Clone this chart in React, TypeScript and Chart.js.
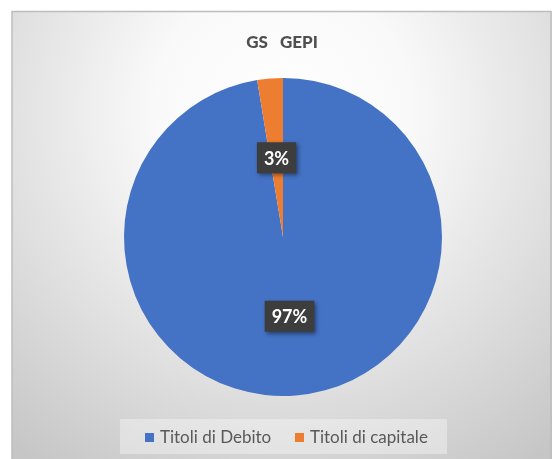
import { useEffect, useRef } from "react";
import { Chart, registerables } from "chart.js";

Chart.register(...registerables);

const chartTitle = "GS   GEPI";
const categories = ["Titoli di Debito", "Titoli di capitale"];
const values = [97.4, 2.6];
const percentLabels = ["97%", "3%"];
const colors = ["#4472C4", "#ED7D31"];

const FONT = "Lato, 'Open Sans', sans-serif";

const framePlugin = {
  id: "frame",
  beforeDraw(chart: any) {
    const ctx = chart.ctx;
    const W = chart.width;
    const H = chart.height;
    ctx.save();
    ctx.fillStyle = "#ffffff";
    ctx.fillRect(0, 0, W, H);
    const g = ctx.createRadialGradient(282, 110, 0, 282, 110, 430);
    g.addColorStop(0, "#ffffff");
    g.addColorStop(0.3, "#f9f9f9");
    g.addColorStop(1, "#c6c6c6");
    ctx.fillStyle = g;
    ctx.fillRect(12, 11, 540, H - 11);
    ctx.strokeStyle = "#bdbdbd";
    ctx.lineWidth = 1.5;
    ctx.beginPath();
    ctx.moveTo(12, H);
    ctx.lineTo(12, 11.5);
    ctx.lineTo(551, 11.5);
    ctx.lineTo(551, H);
    ctx.stroke();
    ctx.restore();
  },
};

const overlayPlugin = {
  id: "overlay",
  afterDraw(chart: any) {
    const ctx = chart.ctx;
    ctx.save();
    // title
    ctx.fillStyle = "#505050";
    ctx.font = `900 17px ${FONT}`;
    ctx.textAlign = "center";
    ctx.textBaseline = "middle";
    ctx.fillText(chartTitle, 282, 43);

    // data labels
    const meta = chart.getDatasetMeta(0);
    meta.data.forEach((arc: any, i: number) => {
      const p = arc.tooltipPosition();
      ctx.font = `bold 18px ${FONT}`;
      const tw = ctx.measureText(percentLabels[i]).width;
      const bw = tw + 14;
      const bh = 31;
      ctx.save();
      ctx.shadowColor = "rgba(0,0,0,0.45)";
      ctx.shadowBlur = 4;
      ctx.shadowOffsetX = 2;
      ctx.shadowOffsetY = 2;
      ctx.fillStyle = "#3d3d3d";
      ctx.fillRect(p.x - bw / 2, p.y - bh / 2, bw, bh);
      ctx.restore();
      ctx.fillStyle = "#ffffff";
      ctx.textAlign = "center";
      ctx.textBaseline = "middle";
      ctx.fillText(percentLabels[i], p.x, p.y + 1);
    });

    // legend
    ctx.fillStyle = "rgba(255,255,255,0.35)";
    ctx.fillRect(120, 419, 327, 35);
    ctx.font = `17px ${FONT}`;
    ctx.textAlign = "left";
    ctx.textBaseline = "middle";
    const starts = [145, 295];
    categories.forEach((c, i) => {
      ctx.fillStyle = colors[i];
      ctx.fillRect(starts[i], 433, 9, 9);
      ctx.fillStyle = "#595959";
      ctx.fillText(c, starts[i] + 15, 437.5);
    });
    ctx.restore();
  },
};

export default function App() {
  const ref = useRef<HTMLCanvasElement>(null);
  useEffect(() => {
    if (!ref.current) return;
    const chart = new Chart(ref.current, {
      type: "pie",
      data: {
        labels: categories,
        datasets: [
          {
            data: values,
            backgroundColor: colors,
            borderWidth: 0,
          },
        ],
      },
      options: {
        responsive: false,
        animation: false,
        layout: { padding: { left: 124, right: 110, top: 78, bottom: 63 } },
        plugins: {
          legend: { display: false },
          title: { display: false },
          tooltip: { enabled: false },
        },
      },
      plugins: [framePlugin, overlayPlugin],
    });
    return () => chart.destroy();
  }, []);
  return (
    <canvas
      ref={ref}
      width={552}
      height={459}
      style={{ position: "absolute", left: 0, top: 0, display: "block" }}
    />
  );
}
